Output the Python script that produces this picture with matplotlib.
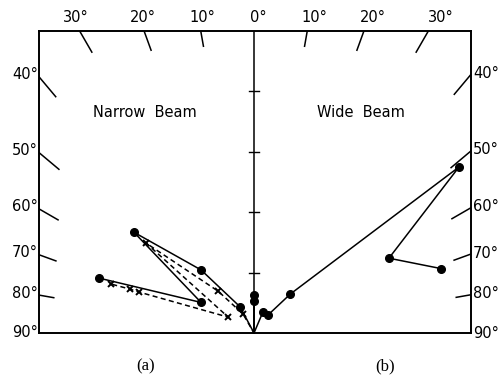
import numpy as np
import matplotlib
matplotlib.use("Agg")
import matplotlib.pyplot as plt

# Polar patterns: angle from the vertical in degrees (left side negative),
# radius in scale divisions of the central axis.
narrow_solid_angle = [0, -10, -28, -40, -50, -60, -70.5]
narrow_solid_r = [0.63, 0.0, 0.49, 1.36, 2.59, 1.01, 2.72]

narrow_dash_angle = [0, -10, -30, -40.6, -50.2, -58.4, -70.4, -70.5, -71.1]
narrow_dash_r = [0.58, 0.0, 0.36, 0.91, 2.32, 0.50, 2.02, 2.17, 2.50]

wide_angle = [0, 10, 23, 38, 43, 51, 61, 71]
wide_r = [0.53, 0.0, 0.38, 0.38, 0.88, 4.36, 2.55, 3.27]

top_angles = [-30, -20, -10, 0, 10, 20, 30]
side_angles = [40, 50, 60, 70, 80, 90]
axis_ticks = [1, 2, 3, 4]

PX = 60.5                      # pixels per scale division
X_LEFT, X_RIGHT, Y_TOP = -215 / PX, 217 / PX, 302.5 / PX

fig = plt.figure(figsize=(5.03, 3.79), dpi=100)
ax = fig.add_axes([39 / 503, 46 / 379, 432 / 503, 302.5 / 379])
ax.set_xlim(X_LEFT, X_RIGHT)
ax.set_ylim(0, Y_TOP)
ax.set_xticks([])
ax.set_yticks([])
for s in ax.spines.values():
    s.set_linewidth(1.4)
    s.set_color("black")

def to_xy(angles, radii):
    a = np.radians(np.asarray(angles, float))
    r = np.asarray(radii, float)
    return r * np.sin(a), r * np.cos(a)

def border_point(theta):
    """Where the ray at angle theta leaves the frame."""
    a = np.radians(theta)
    sx, cy = np.sin(a), np.cos(a)
    xs = X_RIGHT if sx > 0 else X_LEFT
    t_top = Y_TOP / cy if cy > 1e-9 else np.inf
    t_side = xs / sx if abs(sx) > 1e-9 else np.inf
    t = min(t_top, t_side)
    return t * sx, t * cy, t

# central axis with division marks
ax.plot([0, 0], [0, Y_TOP], color="black", lw=1.1)
for yv in axis_ticks:
    ax.plot([-5 / PX, 5 / PX], [yv, yv], color="black", lw=1.0)

# radial ticks on the frame
tick_len = {10: 16, 20: 21, 30: 25, 40: 26, 50: 26, 60: 22, 70: 18, 80: 15}
for th in [-30, -20, -10, 10, 20, 30] + [s * v for v in side_angles[:-1] for s in (-1, 1)]:
    bx, by, t = border_point(th)
    L = tick_len[abs(th)] / PX
    f = (t - L) / t
    ax.plot([bx, bx * f], [by, by * f], color="black", lw=1.1)

# angle labels along the top
ly = (333 - 17) / PX
for th in top_angles:
    lx = ly * np.tan(np.radians(th)) + 0.07
    ax.text(lx, ly, f"{abs(th)}°", ha="center", va="center", fontsize=10.5,
            clip_on=False)

# angle labels along both sides
for th in side_angles:
    for side in (-1, 1):
        bx, by, _ = border_point(side * min(th, 89.99))
        if th == 90:
            by = -0.02
        if side < 0:
            ax.text(X_LEFT - 1 / PX, by + 2 / PX, f"{th}°", ha="right",
                    va="center", fontsize=10.5, clip_on=False)
        else:
            ax.text(X_RIGHT + 2 / PX, by + 1 / PX, f"{th}°", ha="left",
                    va="center", fontsize=10.5, clip_on=False)

# beam patterns
def draw(angles, radii, ls, marker, ms, mew=1.0):
    x, y = to_xy(angles, radii)
    ax.plot(x, y, color="black", lw=1.1, linestyle=ls, solid_capstyle="round",
            clip_on=False)
    keep = np.asarray(radii) > 0
    ax.plot(x[keep], y[keep], linestyle="none", marker=marker, ms=ms,
            mew=mew, color="black", mfc="black", clip_on=False)

draw(narrow_dash_angle, narrow_dash_r, (0, (3.3, 2.2)), "x", 4.5, 1.4)
draw(narrow_solid_angle, narrow_solid_r, "-", "o", 5.5)
draw(wide_angle, wide_r, "-", "o", 5.5)

# panel titles and captions
ax.text(-1.80, 3.65, "Narrow  Beam", ha="center", va="center", fontsize=10.5)
ax.text(1.77, 3.65, "Wide  Beam", ha="center", va="center", fontsize=10.5)
ax.text(-1.80, -0.56, "(a)", ha="center", va="center", fontsize=12,
        family="Liberation Serif", clip_on=False)
ax.text(2.17, -0.56, "(b)", ha="center", va="center", fontsize=12,
        family="Liberation Serif", clip_on=False)

fig.savefig("out.png", dpi=100)
